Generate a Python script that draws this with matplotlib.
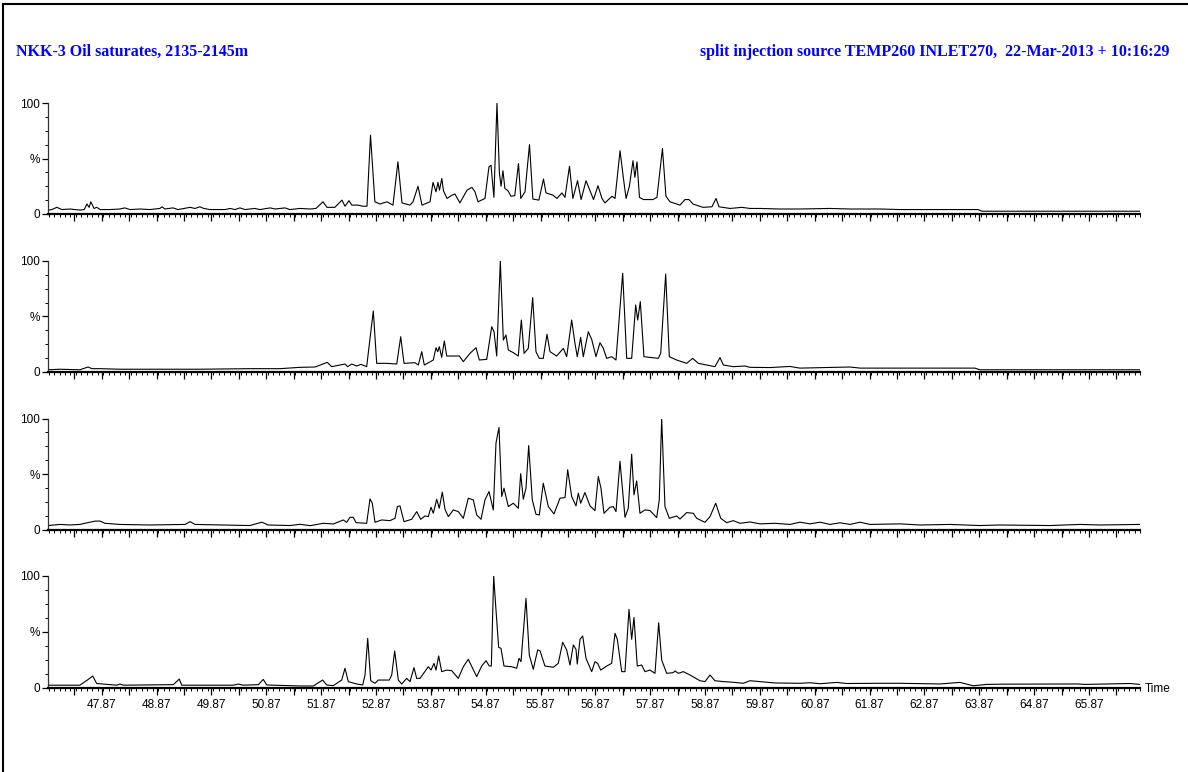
import numpy as np
import matplotlib
matplotlib.use("Agg")
import matplotlib.pyplot as plt
from matplotlib.ticker import FixedLocator, FuncFormatter, MultipleLocator
from matplotlib.lines import Line2D

# retention time (min) and relative intensity (%)
t1 = [46.89, 46.96, 47.05, 47.145, 47.29, 47.47, 47.55, 47.60, 47.64, 47.67, 47.73, 47.78, 47.84,
      48.02, 48.20, 48.29, 48.385, 48.57, 48.75, 48.93, 48.97, 49.02, 49.17, 49.26, 49.48, 49.57,
      49.66, 49.73, 49.84, 50.12, 50.21, 50.30, 50.39, 50.48, 50.66, 50.755, 50.94, 51.03, 51.21,
      51.30, 51.485, 51.67, 51.776, 51.904, 51.977, 52.12, 52.25, 52.305, 52.378, 52.43, 52.54,
      52.633, 52.706, 52.77, 52.85, 52.943, 53.07, 53.18, 53.27, 53.344, 53.49, 53.545, 53.636,
      53.709, 53.855, 53.91, 53.964, 54.00, 54.028, 54.07, 54.10, 54.165, 54.256, 54.31, 54.40,
      54.53, 54.62, 54.675, 54.73, 54.857, 54.93, 54.967, 55.02, 55.076, 55.12, 55.15, 55.185,
      55.22, 55.277, 55.33, 55.40, 55.468, 55.51, 55.587, 55.669, 55.73, 55.84, 55.924, 55.97,
      56.097, 56.17, 56.26, 56.316, 56.398, 56.46, 56.545, 56.61, 56.70, 56.772, 56.836, 56.918,
      56.99, 57.045, 57.173, 57.228, 57.32, 57.374, 57.43, 57.49, 57.556, 57.59, 57.629, 57.674,
      57.747, 57.92, 57.993, 58.093, 58.157, 58.23, 58.413, 58.504, 58.577, 58.65, 58.832, 58.996,
      59.07, 59.124, 59.325, 59.544, 59.689, 59.87, 60.235, 60.60, 61.147, 61.512, 62.06, 62.424,
      62.97, 63.517, 63.845, 63.918, 64.247, 65.16, 66.07, 66.80]
y1 = [3.5, 4, 6, 4, 4.5, 3.5, 4, 9, 6, 11, 5, 6, 4,
      4, 4.5, 5.5, 4, 4.5, 4, 5, 6.5, 4.5, 5.5, 4, 6, 5,
      6.5, 5, 4, 4, 5, 4, 5.5, 4, 5, 4, 5.5, 4.5, 5.5,
      4, 5, 4.5, 5, 11, 6, 6, 12.5, 7, 12, 8, 8,
      7, 7, 71, 11, 9, 11, 8, 47, 10, 8, 11, 25,
      8, 11, 28.5, 20, 28.5, 21.5, 32, 21, 14, 17, 18, 10,
      21.5, 24, 20, 11, 14, 42.5, 44, 15, 100, 37, 25, 39,
      23, 21, 16, 16.5, 45.5, 14, 20, 62.5, 13.5, 12.5, 31.5, 19,
      17, 14, 19, 15, 43, 14, 30, 13, 30, 21, 13, 25.5,
      14, 10, 16, 14, 57, 35, 14, 25, 48, 33, 47, 15,
      13, 13, 15, 59, 16, 11, 8, 13, 13, 9, 6, 6.5,
      14, 6.5, 5, 6, 5, 5, 4.5, 4.5, 5, 4.5, 4.5, 4,
      4, 4, 4, 2.5, 2.5, 2.5, 2.5, 2.5]

t2 = [46.89, 47.11, 47.47, 47.62, 47.69, 47.84, 48.20, 48.75, 49.66, 50.57, 51.12, 51.485, 51.76,
      51.982, 52.062, 52.305, 52.354, 52.427, 52.518, 52.597, 52.70, 52.821, 52.883, 53.065,
      53.248, 53.321, 53.381, 53.58, 53.642, 53.704, 53.751, 53.915, 53.964, 53.995, 54.025,
      54.068, 54.116, 54.16, 54.28, 54.39, 54.462, 54.584, 54.694, 54.754, 54.889, 54.98, 55.022,
      55.071, 55.137, 55.192, 55.24, 55.283, 55.374, 55.465, 55.52, 55.57, 55.647, 55.727, 55.787,
      55.848, 55.92, 55.988, 56.043, 56.165, 56.285, 56.347, 56.438, 56.498, 56.54, 56.602, 56.65,
      56.741, 56.803, 56.881, 56.954, 57.015, 57.076, 57.167, 57.246, 57.368, 57.441, 57.532,
      57.605, 57.642, 57.689, 57.756, 57.853, 58.017, 58.061, 58.152, 58.218, 58.352, 58.535,
      58.644, 58.747, 58.90, 59.05, 59.142, 59.203, 59.385, 59.598, 59.689, 60.054, 60.418, 60.60,
      61.512, 61.695, 62.424, 63.336, 63.79, 63.882, 66.80]
y2 = [2, 2.5, 2, 4.5, 3, 3, 2.5, 2.5, 2.5, 3, 3, 4.2, 4.5,
      8.7, 4.8, 7.2, 4.8, 7.2, 5.4, 6.9, 4.8, 55, 7.8, 7.8,
      7.2, 31.8, 7.8, 8.4, 6.3, 18.3, 6.3, 10.8, 21.9, 18.3, 22.8,
      13.2, 27.9, 14.4, 14.4, 14.4, 9.3, 16.8, 21.9, 10.8, 11.4, 40.8, 36.3,
      14.4, 100, 28.8, 33.3, 19.8, 17.4, 14.4, 46.8, 16.8, 21.3, 67, 18.3,
      12.3, 12.3, 34, 18.3, 14.4, 21.3, 13.8, 46.8, 25.8, 13.8, 31.2, 13.8,
      36.3, 29.4, 13.8, 26.4, 21.3, 12.3, 13.8, 10.8, 89, 12.3, 12.3,
      60.4, 46.8, 63.4, 13.8, 13.2, 12.3, 16.8, 88.3, 13.8, 10.8, 7.8,
      12.3, 7.8, 6.3, 4.8, 13, 6.3, 4.8, 5.4, 4.2, 4, 5, 3.5,
      4.5, 3.5, 3.5, 3.5, 3.5, 2, 2]

t3 = [46.89, 47.11, 47.29, 47.47, 47.66, 47.75, 47.84, 47.93, 48.20, 48.75, 49.39, 49.48, 49.57,
      50.03, 50.57, 50.79, 50.90, 51.30, 51.485, 51.67, 51.91, 52.092, 52.274, 52.336, 52.396,
      52.456, 52.506, 52.70, 52.761, 52.803, 52.852, 52.974, 53.125, 53.217, 53.259, 53.308,
      53.381, 53.521, 53.612, 53.685, 53.764, 53.824, 53.873, 53.915, 53.977, 54.024, 54.079,
      54.128, 54.189, 54.28, 54.371, 54.462, 54.553, 54.644, 54.706, 54.785, 54.857, 54.93,
      55.009, 55.058, 55.113, 55.162, 55.204, 55.283, 55.374, 55.465, 55.508, 55.556, 55.605,
      55.654, 55.72, 55.787, 55.848, 55.92, 56.012, 56.115, 56.225, 56.316, 56.365, 56.438,
      56.517, 56.559, 56.602, 56.68, 56.772, 56.863, 56.923, 56.972, 57.027, 57.136, 57.197,
      57.246, 57.319, 57.41, 57.47, 57.532, 57.574, 57.623, 57.683, 57.774, 57.866, 57.988,
      58.035, 58.079, 58.139, 58.218, 58.352, 58.413, 58.535, 58.655, 58.717, 58.868, 58.96,
      59.064, 59.155, 59.264, 59.385, 59.507, 59.689, 59.87, 60.145, 60.418, 60.60, 60.783,
      60.965, 61.147, 61.33, 61.512, 61.695, 61.877, 62.424, 62.789, 63.336, 63.882, 64.247,
      65.16, 65.70, 66.07, 66.80]
y3 = [4, 5, 4.5, 5, 7, 8, 8, 6, 5, 4.5, 5, 7.5, 5,
      4.5, 4, 7, 4.5, 4, 5.1, 3.9, 6, 5.4, 9, 6.9, 11.4,
      11.4, 6.6, 6, 27.9, 24, 6.9, 9, 8.4, 10.5, 21, 21.6,
      7.5, 9.6, 16.5, 9.6, 12.6, 12, 20.4, 15, 27.6, 19.5, 34,
      18.6, 12, 18, 16.5, 10.5, 28.5, 27, 13.5, 9.6, 27, 34.5,
      18, 78, 92, 30, 37.5, 21, 24, 19.5, 50.5, 27.6, 37.5,
      75.7, 27, 14.1, 13.5, 42, 21, 14.4, 28.5, 29.1, 54, 30,
      21.6, 33, 24, 33.6, 21.6, 17.4, 48, 37.5, 15, 20.4, 21,
      16.5, 61.6, 11.4, 19.5, 68, 31.5, 44, 15, 18, 17.4, 11.1,
      27, 100, 21, 10.5, 12.6, 9.9, 15.6, 15, 10.5, 6.9, 12,
      24, 10.5, 6.6, 8.4, 6, 7.2, 5.5, 6, 5, 7, 5.5,
      7, 5, 6.5, 5, 7, 5, 5.5, 4.5, 5, 4, 4.5,
      4, 5, 4.5, 5]

t4 = [46.89, 47.47, 47.625, 47.705, 47.778, 48.143, 48.20, 48.263, 49.175, 49.284, 49.328, 50.268,
      50.36, 50.451, 50.724, 50.815, 50.878, 51.485, 51.727, 51.898, 51.971, 52.092, 52.245, 52.305,
      52.365, 52.518, 52.628, 52.67, 52.719, 52.774, 52.852, 52.912, 53.113, 53.157, 53.211, 53.277,
      53.339, 53.43, 53.49, 53.563, 53.612, 53.673, 53.824, 53.873, 53.928, 53.964, 54.013, 54.068,
      54.16, 54.25, 54.371, 54.462, 54.553, 54.706, 54.797, 54.876, 54.936, 54.973, 55.016, 55.058,
      55.107, 55.149, 55.204, 55.344, 55.436, 55.477, 55.514, 55.605, 55.665, 55.738, 55.818, 55.86,
      55.951, 56.103, 56.194, 56.274, 56.347, 56.407, 56.468, 56.517, 56.54, 56.59, 56.639, 56.699,
      56.803, 56.863, 56.912, 56.967, 57.076, 57.167, 57.228, 57.27, 57.35, 57.41, 57.483, 57.532,
      57.574, 57.634, 57.714, 57.774, 57.866, 57.957, 58.024, 58.079, 58.17, 58.29, 58.322, 58.382,
      58.473, 58.595, 58.777, 58.868, 58.96, 59.05, 59.202, 59.385, 59.567, 59.689, 60.145, 60.60,
      60.783, 60.965, 61.27, 61.452, 61.999, 62.424, 63.153, 63.517, 63.76, 64.004, 64.247, 65.669,
      65.797, 66.617, 66.80]
y4 = [2.5, 2.5, 7.7, 10.7, 4, 2.5, 3.5, 2.5, 3, 8, 2.5, 2.5,
      3.5, 2.5, 3, 7.7, 2.7, 1.8, 1.8, 7.1, 2.7, 2.1, 7.1, 17.6,
      5.7, 3.6, 2.7, 11.6, 44.3, 6.5, 4.2, 7.1, 7.1, 11.6, 33, 7.1,
      3.6, 8.6, 5.7, 18.2, 8.6, 8.6, 19, 16, 22, 16, 28.6, 14.6,
      16, 15.5, 8.6, 19, 25.6, 10.1, 19.6, 24.4, 19.6, 19.6, 100, 69.6,
      36.3, 35.4, 19.6, 19, 17.6, 26.5, 23.5, 80, 29.5, 16.7, 34, 33.3,
      19.6, 18.5, 22, 40.8, 34, 20.5, 38.4, 34.5, 21.4, 43.5, 46.4, 26.5,
      14.6, 23.5, 22, 16, 19.6, 22, 48.8, 43.5, 14.6, 14.6, 70.2, 43.5,
      63, 19.6, 20.5, 14.6, 16, 13.1, 58.3, 25, 13.1, 13.7, 15.2, 13.1,
      14.6, 11.6, 6.5, 5.7, 11.6, 6.5, 5.7, 5.1, 4.2, 6.5, 4.5, 4.2,
      4.7, 3.8, 5, 4, 4.2, 4.2, 3.6, 5, 2, 3.2, 3.4, 3.6,
      3.2, 4, 3.2]

traces = [(t1, y1), (t2, y2), (t3, y3), (t4, y4)]
xlabels = ["47.87", "48.87", "49.87", "50.87", "51.87", "52.87", "53.87", "54.87", "55.87",
           "56.87", "57.87", "58.87", "59.87", "60.87", "61.87", "62.87", "63.87", "64.87", "65.87"]

title_left = "NKK-3 Oil saturates, 2135-2145m"
title_right = "split injection source TEMP260 INLET270,  22-Mar-2013 + 10:16:29"

plt.rcParams['font.family'] = ['Liberation Sans', 'DejaVu Sans']

fig = plt.figure(figsize=(11.88, 7.72), dpi=100)
W, H = 1188.0, 772.0

left = 48 / W
width = (1140 - 48) / W
tops = [103, 261, 418.5, 576]
zeros = [214, 372, 530, 688]

major_x = [float(s) for s in xlabels]
half_x = np.arange(47.37, 66.8, 0.5)

for i, (t, y) in enumerate(traces):
    ax = fig.add_axes([left, 1 - zeros[i] / H, width, (zeros[i] - tops[i]) / H])
    ax.plot(t, y, color='black', lw=0.8)
    ax.set_xlim(46.89, 66.80)
    ax.set_ylim(0, 100)
    for s in ['top', 'right']:
        ax.spines[s].set_visible(False)
    ax.spines['bottom'].set_linewidth(1.6)
    ax.spines['left'].set_linewidth(0.9)
    ax.spines['left'].set_color('#333333')

    ax.xaxis.set_major_locator(FixedLocator(half_x))
    ax.xaxis.set_minor_locator(MultipleLocator(0.1))
    if i == 3:
        lab = {round(v, 2): s for v, s in zip(major_x, xlabels)}
        ax.xaxis.set_major_formatter(FuncFormatter(lambda v, p: lab.get(round(v, 2), "")))
    else:
        ax.set_xticklabels([])
    ax.tick_params(axis='x', which='major', length=5, width=0.9, labelsize=8.5, pad=3)
    ax.tick_params(axis='x', which='minor', length=2.5, width=0.7)

    ax.yaxis.set_major_locator(FixedLocator([0, 50, 100]))
    ax.yaxis.set_minor_locator(MultipleLocator(12.5))
    ax.set_yticklabels(["0", "%", "100"])
    ax.tick_params(axis='y', which='major', length=4, width=0.9, labelsize=8.5, pad=2)
    ax.tick_params(axis='y', which='minor', length=2.5, width=0.7)
    ax.patch.set_alpha(0)

fig.text(1145 / W, 1 - 689 / H, "Time", fontsize=8.5, ha='left', va='center')

blue = '#0000ff'
fig.text(16 / W, 1 - 52 / H, title_left, color=blue, fontsize=11.5, fontweight='bold',
         family=['Liberation Serif', 'DejaVu Serif'], ha='left', va='center')
fig.text(1170 / W, 1 - 52 / H, title_right, color=blue, fontsize=11.5, fontweight='bold',
         family=['Liberation Serif', 'DejaVu Serif'], ha='right', va='center')

# page frame
fig.add_artist(Line2D([3 / W, 3 / W], [0, 1 - 4 / H], color='black', lw=1.5))
fig.add_artist(Line2D([3 / W, 1], [1 - 4 / H, 1 - 4 / H], color='black', lw=1.5))

fig.savefig("out.png", dpi=100)
